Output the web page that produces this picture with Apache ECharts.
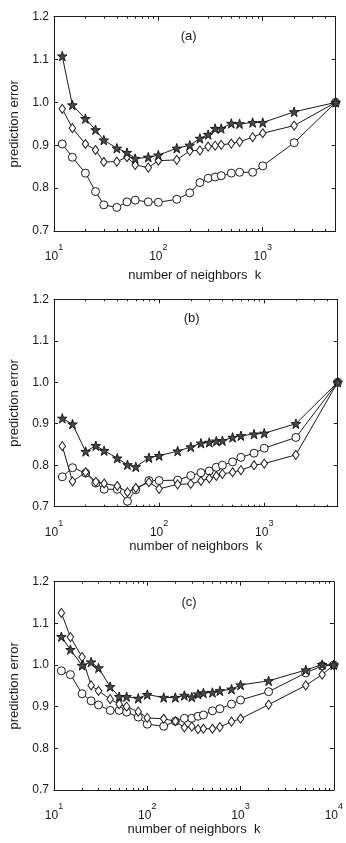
<!DOCTYPE html>
<html>
<head>
<meta charset="utf-8">
<script src="https://cdn.jsdelivr.net/npm/echarts@6/dist/echarts.min.js"></script>
<style>
html,body{margin:0;padding:0;background:#fff;}
#c{width:346px;height:843px;}
</style>
</head>
<body>
<div id="c"></div>
<script>
// ---- data ----
const kAB = [12,15,20,25,30,40,50,60,80,100,150,200,250,300,350,400,500,600,800,1000,2000,5000];
const kC  = [12,15,20,25,30,40,50,60,80,100,150,200,250,300,350,400,500,600,800,1000,2000,5000,7500,10000];

const starA = [1.108,0.994,0.962,0.936,0.912,0.893,0.883,0.869,0.872,0.877,0.893,0.900,0.916,0.925,0.939,0.939,0.951,0.950,0.953,0.953,0.978,1.0];
const diaA  = [0.985,0.940,0.903,0.889,0.861,0.862,0.872,0.854,0.848,0.864,0.866,0.887,0.888,0.897,0.899,0.901,0.904,0.908,0.919,0.928,0.946,1.0];
const cirA  = [0.903,0.872,0.835,0.792,0.761,0.755,0.768,0.772,0.768,0.767,0.774,0.789,0.813,0.823,0.826,0.829,0.835,0.837,0.837,0.852,0.906,1.0];

const starB = [0.913,0.899,0.833,0.847,0.835,0.817,0.801,0.796,0.818,0.823,0.834,0.844,0.853,0.855,0.858,0.859,0.867,0.871,0.875,0.877,0.900,1.0];
const diaB  = [0.846,0.761,0.783,0.760,0.756,0.750,0.735,0.745,0.759,0.743,0.754,0.755,0.762,0.768,0.774,0.779,0.783,0.788,0.800,0.804,0.825,1.0];
const cirB  = [0.772,0.794,0.781,0.757,0.742,0.742,0.713,0.741,0.763,0.763,0.764,0.775,0.782,0.786,0.795,0.800,0.808,0.819,0.829,0.841,0.867,1.0];

const starC = [1.068,1.037,0.999,1.007,0.993,0.948,0.924,0.924,0.920,0.929,0.922,0.922,0.927,0.923,0.930,0.933,0.934,0.938,0.942,0.952,0.962,0.988,1.001,1.0];
const diaC  = [1.125,1.067,1.019,0.951,0.938,0.918,0.906,0.900,0.888,0.873,0.871,0.865,0.850,0.852,0.846,0.847,0.847,0.851,0.864,0.871,0.905,0.951,0.977,1.0];
const cirC  = [0.986,0.977,0.931,0.914,0.904,0.891,0.891,0.887,0.875,0.858,0.853,0.865,0.872,0.872,0.877,0.880,0.890,0.895,0.906,0.916,0.936,0.981,0.998,1.0];

const panelTitles = ['(a)','(b)','(c)'];
const xName = 'number of neighbors  k';
const yName = 'prediction error';
const majorAB = [10,100,1000];
const majorC = [10,100,1000,10000];
const minorAB = [20,30,40,50,60,70,80,90,200,300,400,500,600,700,800,900,2000,3000,4000];
const minorC = [20,30,40,50,60,70,80,90,200,300,400,500,600,700,800,900,2000,3000,4000,5000,6000,7000,8000,9000];

// ---- layout ----
const grids = [
  {left:46, top:16.7, width:289.7, height:214.3},
  {left:47.7, top:299.3, width:290, height:207.4},
  {left:46, top:581.7, width:289.7, height:208.3}
];
const xMax = [5000, 5000, 10000];
const xNameGap = [38, 33, 29];
const titlePos = [[188.7,36],[191.7,318.3],[189,602.7]];

const ink = '#1a1a1a';
const font = 'Liberation Sans, Arial, sans-serif';
const starPath = 'path://M0,-10L2.245,-3.09L9.51,-3.09L3.633,1.18L5.88,8.09L0,3.82L-5.88,8.09L-3.633,1.18L-9.51,-3.09L-2.245,-3.09Z';

const xAxes = [], yAxes = [], series = [], graphics = [];

function supLabel(v){
  const e = Math.round(Math.log10(v));
  return '{b|10}{s|' + e + '}';
}

grids.forEach((g, i) => {
  const majors = i === 2 ? majorC : majorAB;
  const minors = i === 2 ? minorC : minorAB;
  const base = {type:'log', logBase:10, gridIndex:i, min:10, max:xMax[i], splitLine:{show:false}, axisPointer:{show:false}};
  xAxes.push(Object.assign({}, base, {
    position:'bottom',
    axisLine:{show:true, onZero:false, lineStyle:{color:ink, width:1}},
    axisTick:{show:true, inside:true, length:4, customValues:majors, lineStyle:{color:ink}},
    axisLabel:{show:true, customValues:majors, margin:16, showMinLabel:true, showMaxLabel:true,
      formatter:supLabel, color:ink, fontFamily:font,
      rich:{
        b:{fontSize:12, lineHeight:12, height:12, padding:[8,0,0,0], color:ink, fontFamily:font},
        s:{fontSize:9, lineHeight:10, height:10, padding:[0,0,10,0], color:ink, fontFamily:font}
      }},
    name:xName, nameLocation:'middle', nameGap:xNameGap[i],
    nameTextStyle:{fontSize:13, color:ink, fontFamily:font}
  }));
  xAxes.push(Object.assign({}, base, {
    position:'top',
    axisLine:{show:true, onZero:false, lineStyle:{color:ink, width:1}},
    axisTick:{show:true, inside:true, length:4, customValues:majors, lineStyle:{color:ink}},
    axisLabel:{show:false}
  }));
  xAxes.push(Object.assign({}, base, {
    position:'bottom',
    axisLine:{show:false, onZero:false},
    axisTick:{show:true, inside:true, length:2, customValues:minors, lineStyle:{color:ink}},
    axisLabel:{show:false}
  }));
  xAxes.push(Object.assign({}, base, {
    position:'top',
    axisLine:{show:false, onZero:false},
    axisTick:{show:true, inside:true, length:2, customValues:minors, lineStyle:{color:ink}},
    axisLabel:{show:false}
  }));
  yAxes.push({
    type:'value', gridIndex:i, min:0.7, max:1.2, interval:0.1, position:'left',
    splitLine:{show:false},
    axisLine:{show:true, onZero:false, lineStyle:{color:ink, width:1}},
    axisTick:{show:true, inside:true, length:4, lineStyle:{color:ink}},
    axisLabel:{show:true, margin:5, fontSize:12, color:ink, fontFamily:font,
      showMinLabel:true, showMaxLabel:true, formatter:v => v.toFixed(1)},
    name:yName, nameLocation:'middle', nameGap:33,
    nameTextStyle:{fontSize:13, color:ink, fontFamily:font}
  });
  yAxes.push({
    type:'value', gridIndex:i, min:0.7, max:1.2, interval:0.1, position:'right',
    splitLine:{show:false},
    axisLine:{show:true, onZero:false, lineStyle:{color:ink, width:1}},
    axisTick:{show:true, inside:true, length:4, lineStyle:{color:ink}},
    axisLabel:{show:false}
  });
  graphics.push({type:'text', x:titlePos[i][0], y:titlePos[i][1], z:10,
    style:{text:panelTitles[i], fill:ink, font:'13px "Liberation Sans", Arial, sans-serif', textAlign:'center', textVerticalAlign:'middle'}});
});

function mk(i, k, vals, sym, size, fill, z){
  return {
    type:'line', xAxisIndex:i*4, yAxisIndex:i*2,
    data:k.map((x,j)=>[x, vals[j]]),
    symbol:sym, symbolSize:size, showSymbol:true, showAllSymbol:true, clip:false,
    lineStyle:{color:ink, width:1},
    itemStyle:{color:fill, borderColor:ink, borderWidth:1},
    emphasis:{disabled:true}, silent:true, animation:false, z:z
  };
}

const sets = [[kAB, starA, diaA, cirA],[kAB, starB, diaB, cirB],[kC, starC, diaC, cirC]];
sets.forEach((s, i) => {
  series.push(mk(i, s[0], s[3], 'circle', 8, '#ffffff', 2));
  series.push(mk(i, s[0], s[2], 'diamond', [6.5, 9], '#ffffff', 3));
  series.push(mk(i, s[0], s[1], starPath, 9.5, '#4a4a4a', 4));
});

const chart = echarts.init(document.getElementById('c'), null, {renderer:'canvas'});
chart.setOption({
  backgroundColor:'#ffffff',
  animation:false,
  grid:grids,
  xAxis:xAxes,
  yAxis:yAxes,
  series:series,
  graphic:graphics
});
</script>
</body>
</html>
